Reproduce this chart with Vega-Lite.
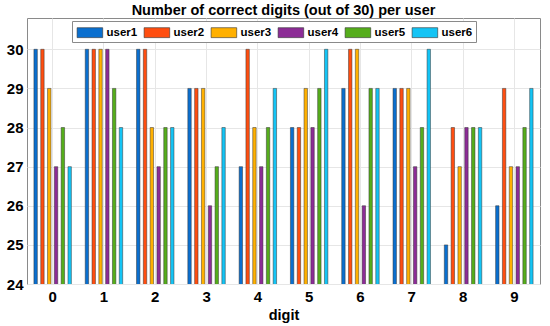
{
  "$schema": "https://vega.github.io/schema/vega-lite/v6.json",
  "width": 513,
  "height": 266,
  "autosize": {"type": "none"},
  "padding": {"left": 27, "top": 18, "right": 10, "bottom": 42},
  "background": "white",
  "title": {"text": "Number of correct digits (out of 30) per user", "fontSize": 14.5, "font": "Liberation Sans", "fontWeight": "bold", "color": "#000", "offset": 0, "anchor": "middle"},
  "config": {
    "font": "Liberation Sans",
    "view": {"stroke": "#8a8a8a", "strokeWidth": 1}
  },
  "data": {"values": [
    {"digit": "0", "user": "user1", "value": 30}, {"digit": "0", "user": "user2", "value": 30}, {"digit": "0", "user": "user3", "value": 29}, {"digit": "0", "user": "user4", "value": 27}, {"digit": "0", "user": "user5", "value": 28}, {"digit": "0", "user": "user6", "value": 27},
    {"digit": "1", "user": "user1", "value": 30}, {"digit": "1", "user": "user2", "value": 30}, {"digit": "1", "user": "user3", "value": 30}, {"digit": "1", "user": "user4", "value": 30}, {"digit": "1", "user": "user5", "value": 29}, {"digit": "1", "user": "user6", "value": 28},
    {"digit": "2", "user": "user1", "value": 30}, {"digit": "2", "user": "user2", "value": 30}, {"digit": "2", "user": "user3", "value": 28}, {"digit": "2", "user": "user4", "value": 27}, {"digit": "2", "user": "user5", "value": 28}, {"digit": "2", "user": "user6", "value": 28},
    {"digit": "3", "user": "user1", "value": 29}, {"digit": "3", "user": "user2", "value": 29}, {"digit": "3", "user": "user3", "value": 29}, {"digit": "3", "user": "user4", "value": 26}, {"digit": "3", "user": "user5", "value": 27}, {"digit": "3", "user": "user6", "value": 28},
    {"digit": "4", "user": "user1", "value": 27}, {"digit": "4", "user": "user2", "value": 30}, {"digit": "4", "user": "user3", "value": 28}, {"digit": "4", "user": "user4", "value": 27}, {"digit": "4", "user": "user5", "value": 28}, {"digit": "4", "user": "user6", "value": 29},
    {"digit": "5", "user": "user1", "value": 28}, {"digit": "5", "user": "user2", "value": 28}, {"digit": "5", "user": "user3", "value": 29}, {"digit": "5", "user": "user4", "value": 28}, {"digit": "5", "user": "user5", "value": 29}, {"digit": "5", "user": "user6", "value": 30},
    {"digit": "6", "user": "user1", "value": 29}, {"digit": "6", "user": "user2", "value": 30}, {"digit": "6", "user": "user3", "value": 30}, {"digit": "6", "user": "user4", "value": 26}, {"digit": "6", "user": "user5", "value": 29}, {"digit": "6", "user": "user6", "value": 29},
    {"digit": "7", "user": "user1", "value": 29}, {"digit": "7", "user": "user2", "value": 29}, {"digit": "7", "user": "user3", "value": 29}, {"digit": "7", "user": "user4", "value": 27}, {"digit": "7", "user": "user5", "value": 28}, {"digit": "7", "user": "user6", "value": 30},
    {"digit": "8", "user": "user1", "value": 25}, {"digit": "8", "user": "user2", "value": 28}, {"digit": "8", "user": "user3", "value": 27}, {"digit": "8", "user": "user4", "value": 28}, {"digit": "8", "user": "user5", "value": 28}, {"digit": "8", "user": "user6", "value": 28},
    {"digit": "9", "user": "user1", "value": 26}, {"digit": "9", "user": "user2", "value": 29}, {"digit": "9", "user": "user3", "value": 27}, {"digit": "9", "user": "user4", "value": 27}, {"digit": "9", "user": "user5", "value": 28}, {"digit": "9", "user": "user6", "value": 29}
  ]},
  "mark": {"type": "bar", "stroke": "#333333", "strokeWidth": 0.5, "clip": true},
  "encoding": {
    "x": {
      "field": "digit", "type": "nominal",
      "scale": {"paddingInner": 0.27, "paddingOuter": 0.135},
      "axis": {"title": "digit", "titleFontSize": 14.5, "titleFontWeight": "bold", "titleColor": "#000", "titlePadding": 4,
               "labelAngle": 0, "labelFontSize": 15, "labelFontWeight": "bold", "labelColor": "#000", "labelPadding": 5,
               "ticks": false, "domain": false, "grid": true, "gridColor": "#e6e6e6", "bandPosition": 0.5}
    },
    "xOffset": {"field": "user", "type": "nominal", "scale": {"paddingInner": 0.5, "paddingOuter": 0}},
    "y": {
      "field": "value", "type": "quantitative",
      "scale": {"domain": [24, 30.8], "zero": false, "nice": false},
      "axis": {"title": null, "values": [24, 25, 26, 27, 28, 29, 30], "labelFontSize": 15, "labelFontWeight": "bold", "labelColor": "#000", "labelPadding": 4,
               "ticks": false, "domain": false, "grid": true, "gridColor": "#e6e6e6"}
    },
    "color": {
      "field": "user", "type": "nominal",
      "scale": {"domain": ["user1", "user2", "user3", "user4", "user5", "user6"], "range": ["#0a6fcf", "#ff4e10", "#ffb000", "#8c2c96", "#55ad1b", "#14c4f5"]},
      "legend": {
        "title": null, "orient": "none", "legendX": 45, "legendY": 3, "direction": "horizontal", "columns": 6,
        "symbolType": "M-0.8,-0.62H2.4V0.62H-0.8Z", "symbolSize": 256, "symbolStrokeColor": "#333", "symbolStrokeWidth": 0.6, "symbolOpacity": 1,
        "labelFontSize": 11.5, "labelFontWeight": "bold", "labelColor": "#000", "labelOffset": 14.5, "columnPadding": 4,
        "padding": 3, "strokeColor": "#8a8a8a", "fillColor": "white"
      }
    }
  }
}
